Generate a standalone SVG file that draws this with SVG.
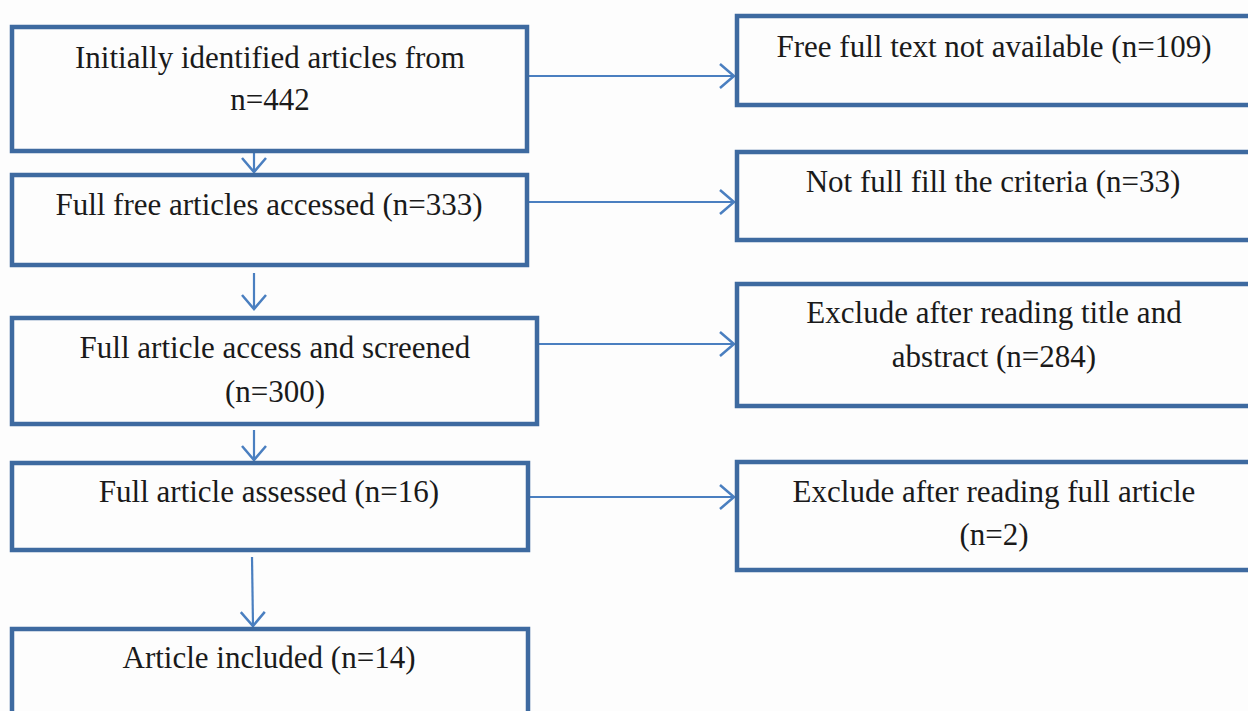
<svg xmlns="http://www.w3.org/2000/svg" width="1248" height="711" viewBox="0 0 1248 711">
<defs>
<style>
.box{fill:#fdfdfd;stroke:#3e6aa0;stroke-width:4.5}
.t{font-family:"Liberation Serif","Times New Roman",serif;font-size:31px;fill:#1a1a1a;text-anchor:middle}
.c{stroke:#4a7fc0;stroke-width:2.2;fill:none}
</style>
<marker id="ah" markerUnits="userSpaceOnUse" markerWidth="30" markerHeight="30" refX="15" refY="13" orient="auto">
<path d="M1,1 L15,13 L1,25" fill="none" stroke="#4a7fc0" stroke-width="2.5"/>
</marker>
</defs>
<rect width="1248" height="711" fill="#fdfdfd"/>
<g id="connectors">
<line class="c" x1="254" y1="153" x2="254" y2="172" marker-end="url(#ah)"/>
<line class="c" x1="254" y1="273" x2="254" y2="309" marker-end="url(#ah)"/>
<line class="c" x1="254" y1="430" x2="254" y2="460" marker-end="url(#ah)"/>
<line class="c" x1="252" y1="557" x2="253" y2="626" marker-end="url(#ah)"/>
<line class="c" x1="529" y1="76" x2="734" y2="76" marker-end="url(#ah)"/>
<line class="c" x1="529" y1="202" x2="734" y2="202" marker-end="url(#ah)"/>
<line class="c" x1="539" y1="344" x2="734" y2="344" marker-end="url(#ah)"/>
<line class="c" x1="529" y1="497" x2="734" y2="497" marker-end="url(#ah)"/>
</g>
<g id="n1"><rect class="box" x="12" y="27" width="515" height="124"/>
<text class="t" x="270" y="68">Initially identified articles from</text>
<text class="t" x="270" y="110">n=442</text></g>
<g id="n2"><rect class="box" x="12" y="175" width="515" height="90"/>
<text class="t" x="269" y="215">Full free articles accessed (n=333)</text></g>
<g id="n3"><rect class="box" x="12" y="318" width="525" height="106"/>
<text class="t" x="275" y="358">Full article access and screened</text>
<text class="t" x="275" y="402">(n=300)</text></g>
<g id="n4"><rect class="box" x="12" y="463" width="516" height="87"/>
<text class="t" x="269" y="502">Full article assessed (n=16)</text></g>
<g id="n5"><rect class="box" x="12" y="629" width="516" height="110"/>
<text class="t" x="269" y="668">Article included (n=14)</text></g>
<g id="r1"><rect class="box" x="737" y="16" width="530" height="89"/>
<text class="t" x="994" y="57">Free full text not available (n=109)</text></g>
<g id="r2"><rect class="box" x="737" y="152" width="530" height="88"/>
<text class="t" x="993" y="192">Not full fill the criteria (n=33)</text></g>
<g id="r3"><rect class="box" x="737" y="284" width="530" height="122"/>
<text class="t" x="994" y="323">Exclude after reading title and</text>
<text class="t" x="994" y="367">abstract (n=284)</text></g>
<g id="r4"><rect class="box" x="737" y="462" width="530" height="108"/>
<text class="t" x="994" y="502">Exclude after reading full article</text>
<text class="t" x="994" y="545">(n=2)</text></g>
</svg>
